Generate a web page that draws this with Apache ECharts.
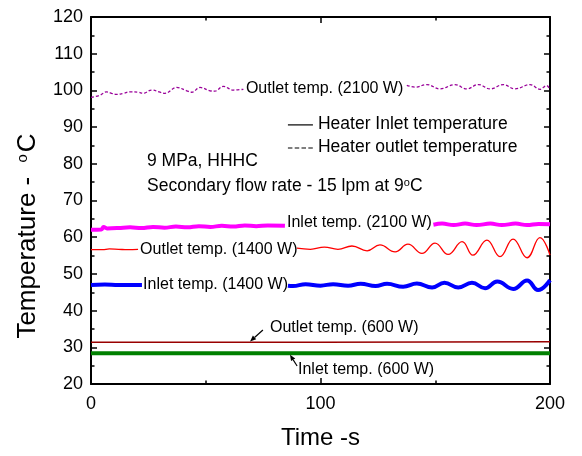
<!DOCTYPE html>
<html>
<head>
<meta charset="utf-8">
<script src="https://cdn.jsdelivr.net/npm/echarts/dist/echarts.min.js"></script>
<style>
  html, body { margin: 0; padding: 0; background: #fff; }
  #chart { width: 582px; height: 456px; }
</style>
</head>
<body>
<div id="chart"></div>
<script>
// Heater inlet / outlet temperatures over time at three heater powers.
// A null entry marks a break in the trace where an inline label sits.

const outlet2100Time = [0, 3.9, 6.8, 9.0, 11.2, 14.1, 17.0, 20.6, 22.8, 26.4, 30.1, 32.2, 37.3, 41.7, 43.9, 47.5, 51.9, 54.0, 57.6, 62.0, 66.4,
  100,
  137.6, 141.5, 146.3, 152.1, 158.6, 163.7, 168.8, 173.9, 179.7, 184.7, 191.3, 195.6, 198.5, 200];
const outlet2100Temp = [98.1, 98.7, 99.6, 99.2, 98.9, 99.2, 99.6, 99.5, 99.2, 100.1, 99.5, 99.2, 100.8, 99.9, 99.5, 100.8, 99.9, 99.8, 101.1, 100.1, 100.3,
  null,
  101.4, 100.9, 101.6, 100.4, 101.6, 100.4, 101.6, 100.4, 101.6, 100.4, 101.6, 100.3, 101.3, 100.2];

const inlet2100Time = [0, 4.5, 5.5, 7, 12, 17, 22, 27, 32, 37, 42, 47, 52, 57, 62, 67, 72, 77, 84.5,
  110,
  149.2, 153, 158, 163, 168, 174, 179, 185, 190, 195, 200];
const inlet2100Temp = [62.0, 62.1, 62.8, 62.4, 62.5, 62.7, 62.5, 62.8, 62.6, 62.9, 62.7, 63.0, 62.8, 63.1, 62.9, 63.2, 63.0, 63.2, 63.1,
  null,
  63.4, 63.7, 63.3, 63.7, 63.3, 63.7, 63.3, 63.7, 63.3, 63.6, 63.5];

const outlet1400Time = [0, 5, 8, 12, 16, 20.5,
  50,
  89.7, 95.6, 101.7, 107.6, 113.7, 120.3, 125.9, 132.5, 138.1, 144.2, 149.9, 155.6, 161.7, 166.4, 172.5, 178.2, 183.9, 190, 195.6, 200];
const outlet1400Temp = [56.6, 56.6, 56.8, 56.7, 56.6, 56.7,
  null,
  57.0, 56.7, 57.3, 56.7, 57.6, 56.3, 57.9, 56.0, 58.1, 55.6, 58.4, 55.3, 58.8, 55.1, 59.2, 54.7, 59.5, 54.4, 59.9, 55.1];

const inlet1400Time = [0, 6, 12, 18, 22.2,
  50,
  85.8, 88, 93.5, 100, 105.5, 112, 117.5, 124, 129, 136, 142, 148.6, 154, 160, 166, 171.7, 177, 184, 190, 194.8, 200];
const inlet1400Temp = [47.0, 47.1, 47.0, 47.0, 47.0,
  null,
  46.8, 46.7, 47.2, 46.8, 47.2, 46.8, 47.3, 46.7, 47.3, 46.5, 47.4, 46.3, 47.6, 46.3, 47.6, 46.1, 47.9, 45.9, 48.2, 45.6, 48.3];

const outlet600Time = [0, 100, 200];
const outlet600Temp = [31.4, 31.4, 31.5];

const inlet600Time = [0, 100, 200];
const inlet600Temp = [28.4, 28.4, 28.4];

// Axis tick labels
const xTickValues = [0, 100, 200];
const xTickLabels = ['0', '100', '200'];
const yTickValues = [20, 30, 40, 50, 60, 70, 80, 90, 100, 110, 120];
const yTickLabels = ['20', '30', '40', '50', '60', '70', '80', '90', '100', '110', '120'];

const FONT = "'Liberation Sans', Arial, Helvetica, sans-serif";

function pairs(ts, vs) {
  return ts.map((t, i) => [t, vs[i] == null ? '-' : vs[i]]);
}

const chart = echarts.init(document.getElementById('chart'), null, { renderer: 'canvas' });

const frameLine = { show: true, onZero: false, lineStyle: { color: '#000', width: 2 } };
const majorTick = { show: true, inside: true, length: 6, lineStyle: { color: '#000', width: 1.5 } };
const minorTick = { show: true, splitNumber: 2, length: 3.5, lineStyle: { color: '#000', width: 1.5 } };

function lineSeries(name, ts, vs, color, width, dash, smooth) {
  return {
    name: name,
    type: 'line',
    data: pairs(ts, vs),
    showSymbol: false,
    symbol: 'none',
    connectNulls: false,
    smooth: smooth,
    lineStyle: { color: color, width: width, type: dash || 'solid' },
    emphasis: { disabled: true }
  };
}

chart.setOption({
  animation: false,
  backgroundColor: '#fff',
  grid: { left: 91, right: 32, top: 17, bottom: 72, containLabel: false },
  xAxis: [
    {
      type: 'value', min: 0, max: 200, interval: 100, position: 'bottom',
      axisLine: frameLine, axisTick: majorTick, minorTick: minorTick,
      splitLine: { show: false }, minorSplitLine: { show: false },
      axisLabel: {
        fontSize: 18, color: '#000', fontFamily: FONT, margin: 11,
        formatter: v => xTickLabels[xTickValues.indexOf(v)]
      },
      name: 'Time -s', nameLocation: 'middle', nameGap: 42,
      nameTextStyle: { fontSize: 24, fontFamily: FONT, color: '#000' }
    },
    {
      type: 'value', min: 0, max: 200, interval: 100, position: 'top',
      axisLine: frameLine, axisTick: majorTick, minorTick: minorTick,
      splitLine: { show: false }, minorSplitLine: { show: false },
      axisLabel: { show: false }
    }
  ],
  yAxis: [
    {
      type: 'value', min: 20, max: 120, interval: 10, position: 'left',
      axisLine: frameLine, axisTick: majorTick, minorTick: minorTick,
      splitLine: { show: false }, minorSplitLine: { show: false },
      axisLabel: {
        fontSize: 18, color: '#000', fontFamily: FONT, margin: 8,
        formatter: v => yTickLabels[yTickValues.indexOf(v)]
      }
    },
    {
      type: 'value', min: 20, max: 120, interval: 10, position: 'right',
      axisLine: frameLine, axisTick: majorTick, minorTick: minorTick,
      splitLine: { show: false }, minorSplitLine: { show: false },
      axisLabel: { show: false }
    }
  ],
  series: [
    lineSeries('Outlet 2100 W', outlet2100Time, outlet2100Temp, '#990099', 1.3, [3, 2], 0.4),
    lineSeries('Inlet 2100 W', inlet2100Time, inlet2100Temp, '#ff00ff', 4, null, 0.4),
    lineSeries('Outlet 1400 W', outlet1400Time, outlet1400Temp, '#ff0000', 1.3, null, 0.45),
    lineSeries('Inlet 1400 W', inlet1400Time, inlet1400Temp, '#0000ff', 4, null, 0.45),
    lineSeries('Outlet 600 W', outlet600Time, outlet600Temp, '#990000', 1.5, null, false),
    lineSeries('Inlet 600 W', inlet600Time, inlet600Temp, '#008000', 4, null, false)
  ]
});

// Inline labels, legend key and arrows, anchored in data coordinates.
const px = (t, T) => chart.convertToPixel({ xAxisIndex: 0, yAxisIndex: 0 }, [t, T]);

const notes = [
  { text: 'Outlet temp. (2100 W)', at: [67.5, 100.5], size: 16 },
  { text: 'Inlet temp. (2100 W)', at: [85.4, 64.0], size: 16 },
  { text: 'Outlet temp. (1400 W)', at: [21.4, 56.5], size: 16 },
  { text: 'Inlet temp. (1400 W)', at: [22.7, 47.0], size: 16 },
  { text: 'Outlet temp. (600 W)', at: [78.0, 35.3], size: 16 },
  { text: 'Inlet temp. (600 W)', at: [90.2, 23.8], size: 16 },
  { text: 'Heater Inlet temperature', at: [98.9, 90.7], size: 17.5 },
  { text: 'Heater outlet temperature', at: [98.9, 84.4], size: 17.5 },
  { text: '9 MPa, HHHC', at: [24.4, 80.6], size: 17.5 },
  { text: 'Secondary flow rate - 15 lpm at 9{sup|o}C', at: [24.4, 73.8], size: 17.5 }
];

const keys = [
  { from: [85.8, 90.6], to: [96.7, 90.6], dash: null },
  { from: [85.8, 84.3], to: [96.7, 84.3], dash: [4.5, 2.3] }
];

const arrows = [
  { tail: [74.9, 34.7], head: [69.3, 31.6] },
  { tail: [89.8, 24.9], head: [86.7, 28.0] }
];

const graphics = [];

// Vertical axis title, with a raised degree mark
graphics.push({
  type: 'text', x: 28, y: 236, rotation: Math.PI / 2, z: 100,
  style: {
    text: 'Temperature - {sup|o}C', fill: '#000', fontSize: 26, fontFamily: FONT,
    align: 'center', verticalAlign: 'middle',
    rich: { sup: { fontSize: 15, lineHeight: 15, verticalAlign: 'top', fontFamily: FONT, fill: '#000', padding: [0, 2, 0, 7] } }
  }
});

notes.forEach(n => {
  const p = px(n.at[0], n.at[1]);
  graphics.push({
    type: 'text', x: p[0], y: p[1], z: 100,
    style: {
      text: n.text, fill: '#000', fontSize: n.size, fontFamily: FONT,
      align: 'left', verticalAlign: 'middle',
      rich: { sup: { fontSize: 11, lineHeight: 11, verticalAlign: 'top', fontFamily: FONT, fill: '#000' } }
    }
  });
});

keys.forEach(k => {
  const a = px(k.from[0], k.from[1]);
  const b = px(k.to[0], k.to[1]);
  graphics.push({
    type: 'line', z: 100,
    shape: { x1: a[0], y1: a[1], x2: b[0], y2: b[1] },
    style: { stroke: '#000', lineWidth: 1.2, lineDash: k.dash }
  });
});

arrows.forEach(ar => {
  const t = px(ar.tail[0], ar.tail[1]);
  const h = px(ar.head[0], ar.head[1]);
  const dx = h[0] - t[0], dy = h[1] - t[1];
  const len = Math.sqrt(dx * dx + dy * dy);
  const ux = dx / len, uy = dy / len;
  const headLen = 6, headHalf = 2.5;
  const bx = h[0] - ux * headLen, by = h[1] - uy * headLen;
  graphics.push({
    type: 'line', z: 100,
    shape: { x1: t[0], y1: t[1], x2: bx, y2: by },
    style: { stroke: '#000', lineWidth: 1.2 }
  });
  graphics.push({
    type: 'polygon', z: 100,
    shape: { points: [[h[0], h[1]], [bx - uy * headHalf, by + ux * headHalf], [bx + uy * headHalf, by - ux * headHalf]] },
    style: { fill: '#000' }
  });
});

chart.setOption({ graphic: graphics });
</script>
</body>
</html>
